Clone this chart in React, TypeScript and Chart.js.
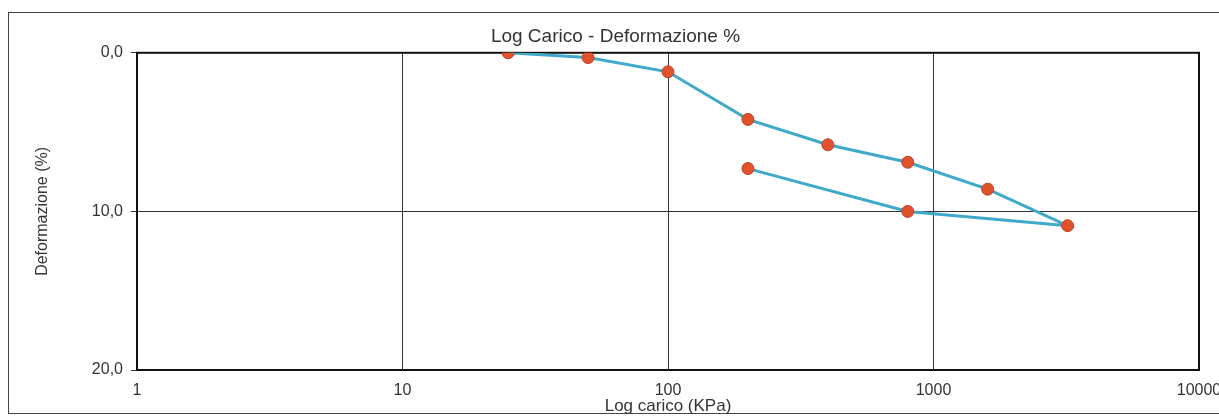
import React, { useEffect, useRef } from "react";
import { Chart, registerables } from "chart.js";

Chart.register(...registerables);

// Data
const loadKPa: number[] = [25, 50, 100, 200, 400, 800, 1600, 3200, 800, 200];
const deformationPct: number[] = [0, 0.3, 1.2, 4.2, 5.8, 6.9, 8.6, 10.9, 10.0, 7.3];
const xTickValues: number[] = [1, 10, 100, 1000, 10000];
const yTickValues: number[] = [0, 10, 20];

const chartTitle = "Log Carico - Deformazione %";
const xTitle = "Log carico (KPa)";
const yTitle = "Deformazione (%)";

const FONT = "'Liberation Sans', Arial, Helvetica, sans-serif";

const plotBorder = {
  id: "plotBorder",
  beforeDatasetsDraw(chart: any) {
    const { ctx, chartArea } = chart;
    ctx.save();
    ctx.strokeStyle = "#111";
    ctx.lineWidth = 2;
    ctx.strokeRect(chartArea.left, chartArea.top, chartArea.right - chartArea.left, chartArea.bottom - chartArea.top);
    ctx.restore();
  },
};

export default function App() {
  const ref = useRef<HTMLCanvasElement | null>(null);

  useEffect(() => {
    document.body.style.margin = "0";
    if (!ref.current) return;
    const points = loadKPa.map((x, i) => ({ x, y: deformationPct[i] }));
    const chart = new Chart(ref.current, {
      type: "line",
      data: {
        datasets: [
          {
            data: points,
            borderColor: "#3fa9c9",
            borderWidth: 3,
            pointRadius: 6,
            pointBackgroundColor: "#e0522c",
            pointBorderColor: "#c2412a",
            pointBorderWidth: 1,
            tension: 0,
            fill: false,
          },
        ],
      },
      options: {
        animation: false,
        responsive: false,
        maintainAspectRatio: false,
        layout: { padding: { left: 32, right: 20, top: 0, bottom: 0 } },
        plugins: {
          legend: { display: false },
          tooltip: { enabled: false },
          title: {
            display: true,
            text: chartTitle,
            color: "#333",
            font: { family: FONT, size: 19, weight: "normal" },
            padding: { top: 25, bottom: 5 },
          },
        },
        scales: {
          x: {
            type: "logarithmic",
            min: 1,
            max: 10000,
            afterBuildTicks: (s: any) => {
              s.ticks = xTickValues.map((v) => ({ value: v }));
            },
            afterFit: (s: any) => {
              s.height = 47;
              s.paddingLeft = 0;
              s.paddingRight = 0;
            },
            ticks: {
              color: "#333",
              font: { family: FONT, size: 16 },
              padding: 11,
              maxRotation: 0,
              autoSkip: false,
              callback: (v: any) => String(v),
            },
            grid: { color: "#333", lineWidth: 1, drawTicks: false },
            border: { display: false },
            title: {
              display: true,
              text: xTitle,
              color: "#333",
              font: { family: FONT, size: 17 },
              padding: { top: 0, bottom: 0 },
            },
          },
          y: {
            type: "linear",
            reverse: true,
            min: 0,
            max: 20,
            afterBuildTicks: (s: any) => {
              s.ticks = yTickValues.map((v) => ({ value: v }));
            },
            afterFit: (s: any) => {
              s.width = 105;
            },
            ticks: {
              color: "#333",
              font: { family: FONT, size: 16 },
              padding: 8,
              callback: (v: any) => Number(v).toFixed(1).replace(".", ","),
            },
            grid: { color: "#333", lineWidth: 1, drawTicks: true, tickLength: 6 },
            border: { display: false },
            title: {
              display: true,
              text: yTitle,
              color: "#333",
              font: { family: FONT, size: 16 },
              padding: { top: 1, bottom: 0 },
            },
          },
        },
      },
      plugins: [plotBorder],
    } as any);
    return () => chart.destroy();
  }, []);

  return (
    <div style={{ position: "relative", width: 1219, height: 417, overflow: "hidden", background: "#fff" }}>
      <div
        style={{
          position: "absolute",
          left: 8,
          top: 12,
          width: 1240,
          height: 402,
          border: "1.5px solid #444",
          boxSizing: "border-box",
        }}
      />
      <canvas ref={ref} width={1219} height={417} style={{ position: "absolute", left: 0, top: 0, display: "block" }} />
    </div>
  );
}
